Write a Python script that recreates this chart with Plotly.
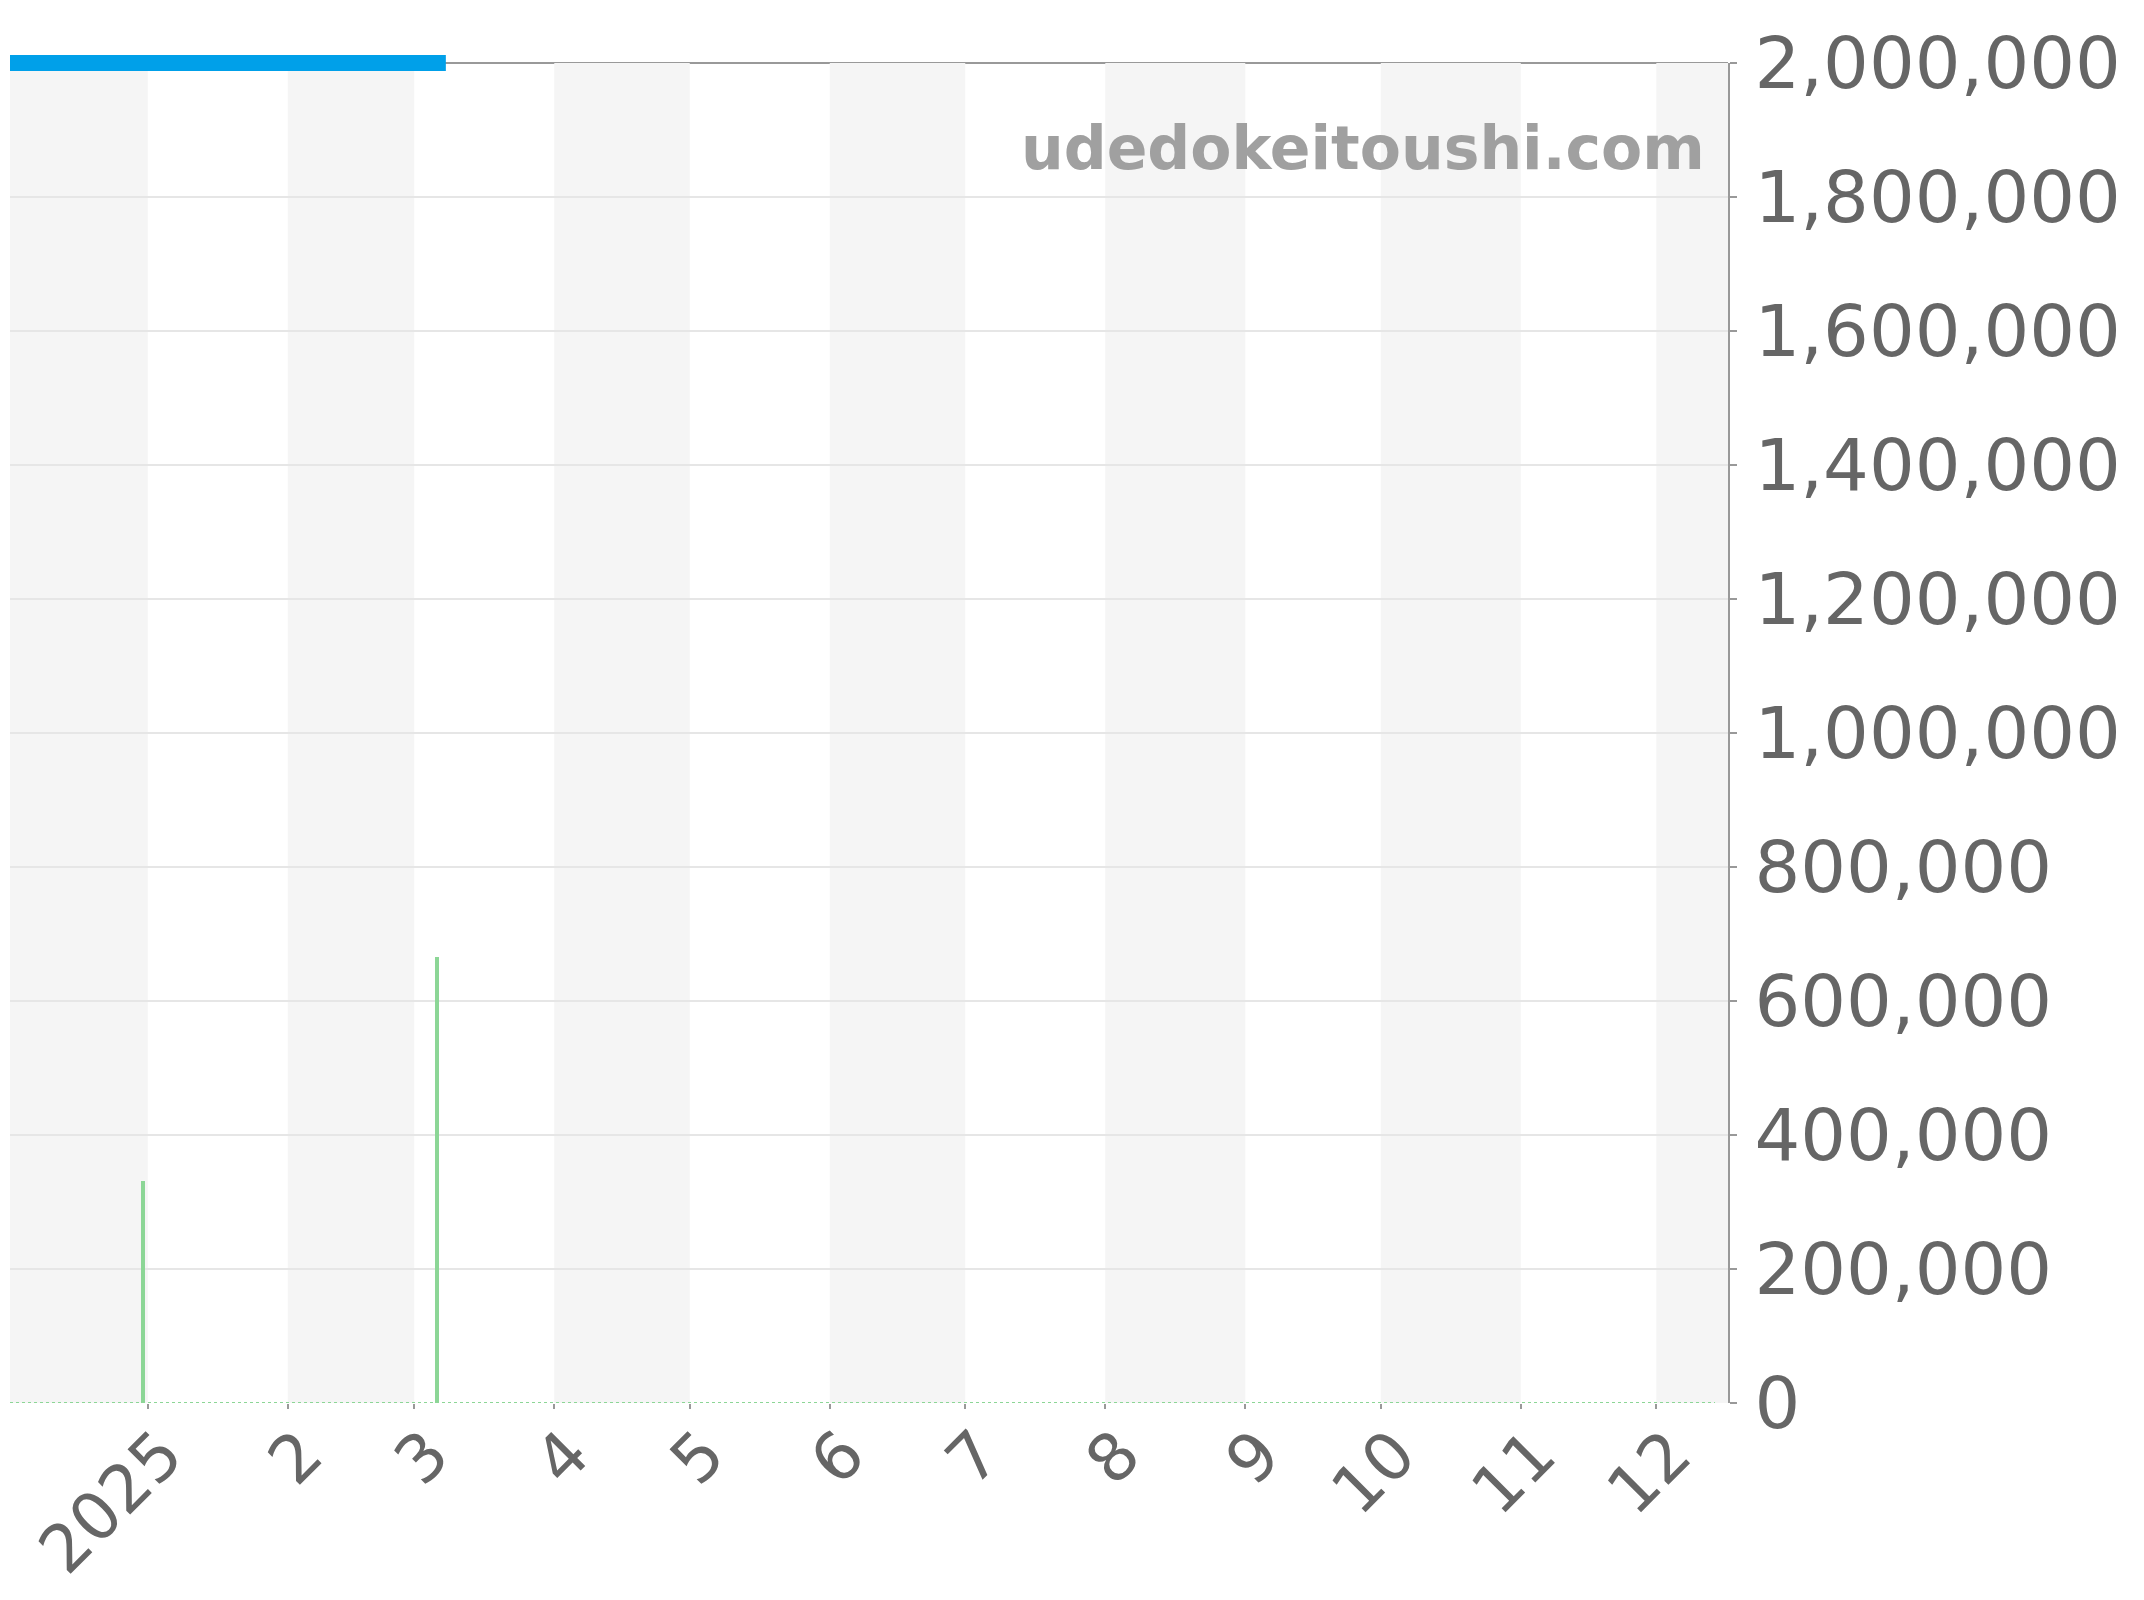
import plotly.graph_objects as go

# --- data ---
month_ticks = ["2025-01-01", "2025-02-01", "2025-03-01", "2025-04-01", "2025-05-01", "2025-06-01",
               "2025-07-01", "2025-08-01", "2025-09-01", "2025-10-01", "2025-11-01", "2025-12-01"]
month_labels = ["2025", "2", "3", "4", "5", "6", "7", "8", "9", "10", "11", "12"]

# price line (blue), pinned at the top of the scale
price_dates = ["2024-12-01 12:00", "2025-03-08"]
price_values = [2000000, 2000000]

# green spikes (volume-like bars)
bar_dates = ["2024-12-31", "2025-03-06"]
bar_values = [331000, 665000]

# green dotted base line
base_dates = ["2024-12-01 12:00", "2025-12-14"]
base_values = [0, 0]

# shaded months (every other month)
band_starts = ["2024-12-01 12:00", "2025-02-01", "2025-04-01", "2025-06-01", "2025-08-01",
               "2025-10-01", "2025-12-01"]
band_ends = ["2025-01-01", "2025-03-01", "2025-05-01", "2025-07-01", "2025-09-01",
             "2025-11-01", "2025-12-16 21:00"]

x_range = ["2024-12-01 12:00", "2025-12-16 21:00"]
y_max = 2000000

FONT = "DejaVu Sans"
GREEN = "rgb(140,214,150)"
BLUE = "#00a0e9"
AXIS_GRAY = "#999999"

# layout in px (figure is placed 8px in from the page corner)
W, H = 2136, 1592
M_L, M_R, M_T, M_B = 2, 416, 43, 197
PLOT_TOP = 55  # where 2,000,000 sits
y_top_frac = (H - M_B - PLOT_TOP) / (H - M_B - M_T)

fig = go.Figure()

fig.add_trace(go.Scatter(
    x=base_dates, y=base_values,
    mode="lines",
    line=dict(color=GREEN, width=2, dash="dot"),
    hoverinfo="skip",
))

fig.add_trace(go.Bar(
    x=bar_dates, y=bar_values,
    width=0.9 * 86400000,  # a bit under a day wide
    marker=dict(color=GREEN, line=dict(width=0)),
))

# blue line lives on a taller hidden axis so its thick stroke isn't clipped at the top
fig.add_trace(go.Scatter(
    x=price_dates, y=price_values,
    mode="lines",
    line=dict(color=BLUE, width=16),
    yaxis="y2",
))

# alternating month bands
for s, e in zip(band_starts, band_ends):
    fig.add_shape(type="rect", xref="x", yref="y",
                  x0=s, x1=e, y0=0, y1=y_max,
                  fillcolor="#f5f5f5", line=dict(width=0), layer="below")

# darker line along the top of the plot (paper ref so it isn't clipped)
fig.add_shape(type="line", xref="paper", yref="paper",
              x0=0, x1=1, y0=y_top_frac, y1=y_top_frac,
              line=dict(color=AXIS_GRAY, width=2), layer="between")

# watermark
fig.add_annotation(
    xref="paper", yref="paper", x=0.988, y=0.928,
    xanchor="right", yanchor="middle",
    text="<b>udedokeitoushi.com</b>",
    showarrow=False,
    font=dict(family=FONT, size=60, color="#a0a0a0"),
)

fig.update_layout(
    width=W, height=H,
    margin=dict(l=M_L, r=M_R, t=M_T, b=M_B, autoexpand=False),
    paper_bgcolor="white",
    plot_bgcolor="rgba(0,0,0,0)",
    showlegend=False,
    bargap=0,
    font=dict(family=FONT, size=72, color="#666666"),
    xaxis=dict(
        type="date",
        range=x_range,
        tickvals=month_ticks,
        ticktext=month_labels,
        tickangle=-45,
        ticks="outside", ticklen=5, tickwidth=2, tickcolor=AXIS_GRAY,
        ticklabelshift=15, ticklabelstandoff=-20,
        ticklabeloverflow="allow",
        showgrid=False, zeroline=False, showline=False,
        tickfont=dict(family=FONT, size=66, color="#666666"),
    ),
    yaxis=dict(
        side="right",
        domain=[0, y_top_frac],
        range=[0, y_max],
        dtick=200000,
        tickformat=",",
        ticks="outside", ticklen=7, tickwidth=2, tickcolor=AXIS_GRAY,
        ticklabelstandoff=3,
        showline=True, linecolor=AXIS_GRAY, linewidth=2,
        showgrid=True, gridcolor="#e6e6e6", gridwidth=1.5,
        zeroline=False,
        tickfont=dict(family=FONT, size=72, color="#666666"),
    ),
    yaxis2=dict(
        domain=[0, 1],
        range=[0, y_max / y_top_frac],
        anchor="x",
        visible=False,
        showgrid=False, zeroline=False,
    ),
)

fig.write_html("out.html")
